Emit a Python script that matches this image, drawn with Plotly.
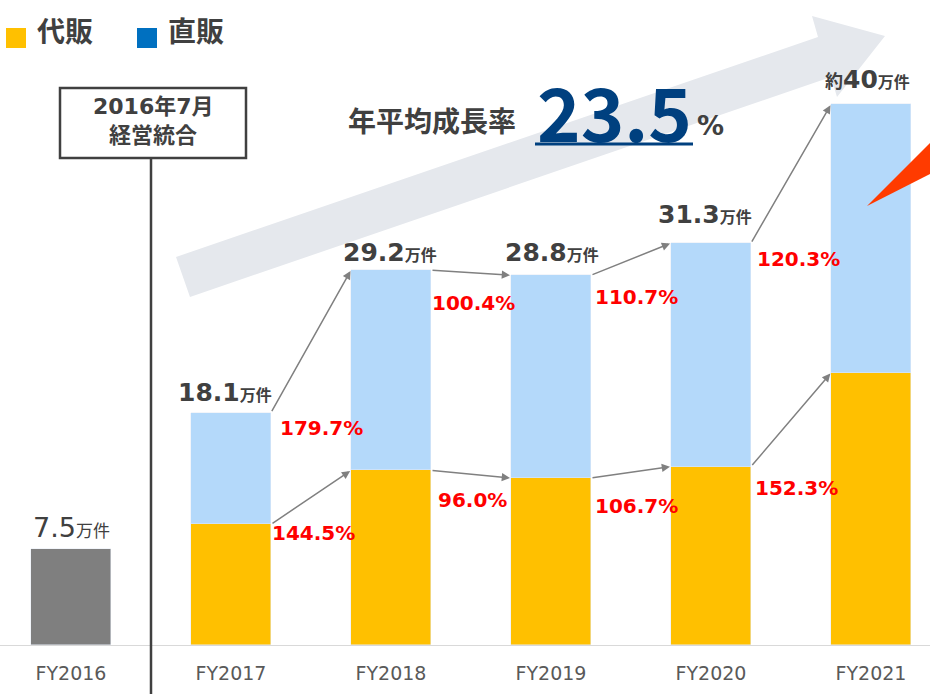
import plotly.graph_objects as go

# ---------------- data ----------------
categories = ["FY2016", "FY2017", "FY2018", "FY2019", "FY2020", "FY2021"]
base_value = [7.5]                                  # FY2016 (combined, before integration)
agency = [9.4, 13.6, 13.0, 13.9, 21.2]              # 代販 FY2017-FY2021
direct = [8.7, 15.6, 15.8, 17.4, 20.9]              # 直販 FY2017-FY2021
total_text = ["7.5", "18.1", "29.2", "28.8", "31.3", "40"]
total_prefix = ["", "", "", "", "", "約"]
direct_growth = ["179.7%", "100.4%", "110.7%", "120.3%"]
agency_growth = ["144.5%", "96.0%", "106.7%", "152.3%"]
cagr_text = "23.5"

# ---------------- style ----------------
W, H = 930, 694
B = 49
FONT = "DejaVu Sans, Noto Sans CJK JP"
FONT_JP = "Noto Sans CJK JP"
DARK = "#404040"
ORANGE = "#FFC000"
LIGHTBLUE = "#B4D9FA"
LEGBLUE = "#0070C0"
GRAY = "#7F7F7F"
NAVY = "#00407F"
RED = "#FF0000"


def PX(x):
    return x / W


def PY(y):
    return (H - B - y) / (H - B)


totals = base_value + [a + d for a, d in zip(agency, direct)]

fig = go.Figure()
fig.add_bar(x=categories[:1], y=base_value, marker_color=GRAY, width=0.5, name="FY2016",
            showlegend=False)
fig.add_bar(x=categories[1:], y=agency, marker_color=ORANGE, width=0.5, name="代販",
            showlegend=False)
fig.add_bar(x=categories[1:], y=direct, marker_color=LIGHTBLUE, width=0.5, name="直販",
            showlegend=False)

shapes = []
ann = []


def txt(text, x, y, size, color=DARK, family=FONT, xanchor="center", yanchor="middle"):
    ann.append(dict(text=text, xref="paper", yref="paper", x=PX(x), y=PY(y),
                    xanchor=xanchor, yanchor=yanchor, showarrow=False,
                    font=dict(size=size, color=color, family=family)))


# big light-gray growth arrow (background)
arrow_pts = [(176, 257), (818, 37), (812, 16), (885, 36), (837, 97), (831, 77), (190, 297)]
path = "M " + " L ".join(f"{PX(x):.5f},{PY(y):.5f}" for x, y in arrow_pts) + " Z"
shapes.append(dict(type="path", path=path, xref="paper", yref="paper",
                   fillcolor="#E5E8ED", line=dict(width=0), layer="below"))

# red-orange pointer at right edge
red_pts = [(867, 206), (932, 141), (932, 173)]
path = "M " + " L ".join(f"{PX(x):.5f},{PY(y):.5f}" for x, y in red_pts) + " Z"
shapes.append(dict(type="path", path=path, xref="paper", yref="paper",
                   fillcolor="#FF3B00", line=dict(width=0), layer="above"))

# divider line between FY2016 and FY2017
shapes.append(dict(type="line", xref="x", yref="paper", x0=0.5, x1=0.5,
                   y0=PY(158), y1=PY(700), line=dict(color=DARK, width=2.5)))
# box
shapes.append(dict(type="rect", xref="paper", yref="paper", x0=PX(60), x1=PX(246),
                   y0=PY(158), y1=PY(88), line=dict(color=DARK, width=2.5),
                   fillcolor="white"))
txt("<b>2016年7月</b>", 153, 106, 22)
txt("<b>経営統合</b>", 153, 135, 22)

# legend
for x0, col, label in [(6, ORANGE, "代販"), (137, LEGBLUE, "直販")]:
    shapes.append(dict(type="rect", xref="paper", yref="paper", x0=PX(x0), x1=PX(x0 + 20),
                       y0=PY(48), y1=PY(28), fillcolor=col, line=dict(width=0)))
    txt(f"<b>{label}</b>", x0 + 29, 32, 28, xanchor="left")

# CAGR text
txt("<b>年平均成長率</b>", 432, 122, 28)
txt(f"<b>{cagr_text}</b>", 614, 110, 74, color=NAVY, family=FONT_JP)
txt("<b>%</b>", 710, 125, 27)
shapes.append(dict(type="line", xref="paper", yref="paper", x0=PX(535), x1=PX(693),
                   y0=PY(144), y1=PY(144), line=dict(color=NAVY, width=3)))

# total labels
lab_xshift = [0, -6, -1, 1, -6, -4]
lab_yshift = [4, 4, 1, 6, 12, 8]
for i, (cat, t, pre) in enumerate(zip(categories, total_text, total_prefix)):
    if i == 0:
        label = f"<span style='font-size:27px'>{t}</span><span style='font-size:17px'>万件</span>"
    else:
        label = (f"<b><span style='font-size:18px'>{pre}</span>"
                 f"<span style='font-size:25px'>{t}</span>"
                 f"<span style='font-size:16px'>万件</span></b>")
    ann.append(dict(text=label, x=i, y=totals[i], xref="x", yref="y", xanchor="center",
                    yanchor="bottom", xshift=lab_xshift[i], yshift=lab_yshift[i],
                    showarrow=False, font=dict(size=16, color=DARK, family=FONT)))

# growth arrows and percent labels
agency_tops = agency
direct_tops = [a + d for a, d in zip(agency, direct)]
d_xs = [7, -1, 2, 4]
d_ys = [-15, -33, -22, -16]
a_xs = [-1, 5, 2, 2]
a_ys = [-9, -30, -28, -21]
for k in range(4):
    i = k + 1  # category index of the source bar
    for tops in (direct_tops, agency_tops):
        ann.append(dict(text="", x=i + 0.75, y=tops[k + 1], ax=i + 0.25, ay=tops[k],
                        xref="x", yref="y", axref="x", ayref="y", showarrow=True,
                        arrowhead=2, arrowsize=1.1, arrowwidth=1.5, arrowcolor="#808080",
                        standoff=1, startstandoff=0))
    ann.append(dict(text=f"<b>{direct_growth[k]}</b>", x=i + 0.25, y=direct_tops[k],
                    xref="x", yref="y", xanchor="left", yanchor="middle",
                    xshift=d_xs[k], yshift=d_ys[k], showarrow=False,
                    font=dict(size=20, color=RED, family=FONT)))
    ann.append(dict(text=f"<b>{agency_growth[k]}</b>", x=i + 0.25, y=agency_tops[k],
                    xref="x", yref="y", xanchor="left", yanchor="middle",
                    xshift=a_xs[k], yshift=a_ys[k], showarrow=False,
                    font=dict(size=20, color=RED, family=FONT)))

y_top = (H - B) / 12.84
fig.update_layout(
    width=W, height=H, barmode="stack", bargap=0,
    margin=dict(l=0, r=0, t=0, b=B, pad=0),
    paper_bgcolor="white", plot_bgcolor="white",
    shapes=shapes, annotations=ann, showlegend=False,
    xaxis=dict(type="category", range=[-71 / 160, (W - 71) / 160], showgrid=False,
               showline=True, linecolor="#D9D9D9", linewidth=1, ticks="",
               ticklabelstandoff=11, zeroline=False,
               tickfont=dict(size=19, color="#595959", family="DejaVu Sans"),
               fixedrange=True),
    yaxis=dict(range=[0, y_top], visible=False, showgrid=False, zeroline=False,
               fixedrange=True),
)

fig.write_html("out.html", config={"displayModeBar": False},
               post_script="document.body.style.margin='0px';")
